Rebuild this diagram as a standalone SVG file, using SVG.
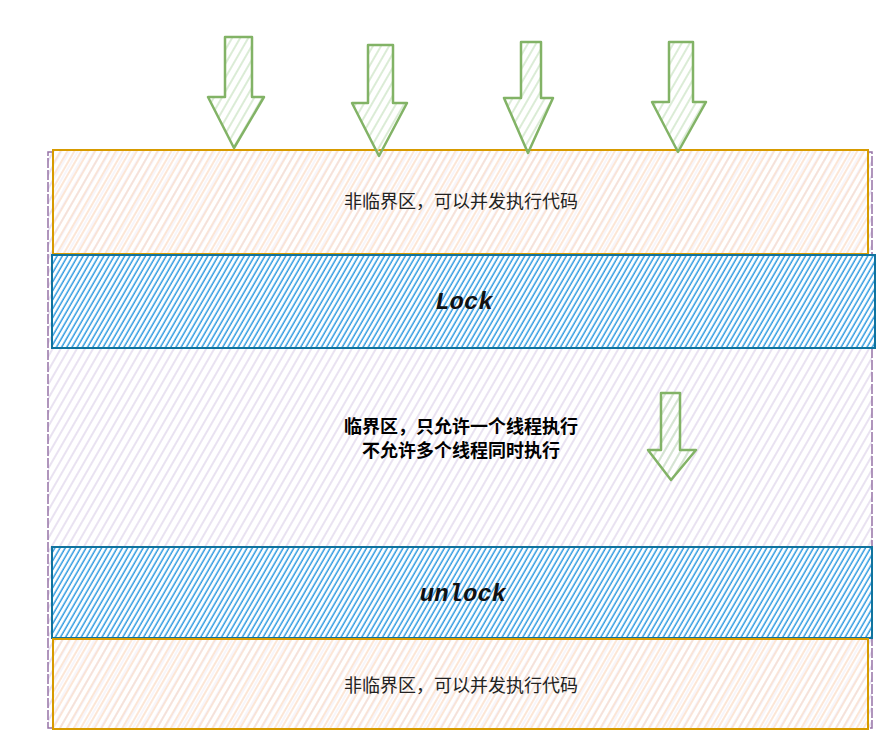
<svg xmlns="http://www.w3.org/2000/svg" width="894" height="744" viewBox="0 0 894 744">
<style>
.cn{font-family:"Noto Sans CJK SC","Liberation Sans",sans-serif;font-size:18px;fill:#222;text-anchor:middle;dominant-baseline:central}
.cnb{font-family:"Noto Sans CJK SC","Liberation Sans",sans-serif;font-size:18px;font-weight:bold;fill:#000;text-anchor:middle;dominant-baseline:central}
.mono{font-family:"Liberation Mono","DejaVu Sans Mono",monospace;font-size:24px;font-weight:bold;font-style:italic;fill:#111;text-anchor:middle;dominant-baseline:central}
.arrow{fill:url(#hg);stroke:#82b366;stroke-width:2.5;stroke-linejoin:round}
</style>
<defs>
<pattern id="ho" width="6" height="10" patternUnits="userSpaceOnUse" patternTransform="rotate(30)">
<line x1="2" y1="0" x2="2" y2="10" stroke="#fbd9c0" stroke-width="1.3"/>
</pattern>
<pattern id="hp" width="7" height="10" patternUnits="userSpaceOnUse" patternTransform="rotate(30)">
<line x1="3" y1="0" x2="3" y2="10" stroke="#ddd3ea" stroke-width="1.3"/>
</pattern>
<pattern id="hb" width="4.5" height="10" patternUnits="userSpaceOnUse" patternTransform="rotate(30)">
<line x1="2" y1="0" x2="2" y2="10" stroke="#2f9ae0" stroke-width="1.5"/>
</pattern>
<pattern id="hg" width="7" height="10" patternUnits="userSpaceOnUse" patternTransform="rotate(30)">
<line x1="3" y1="0" x2="3" y2="10" stroke="#cfe6c8" stroke-width="1.5"/>
</pattern>
</defs>

<g id="critical">
<rect x="48" y="152" width="824" height="576" fill="#fff"/>
<rect x="48" y="152" width="824" height="576" fill="url(#hp)" stroke="#9673a6" stroke-width="1.5" stroke-dasharray="10 2"/>
<text class="cnb" x="461" y="425">临界区，只允许一个线程执行</text>
<text class="cnb" x="461" y="449">不允许多个线程同时执行</text>
</g>

<g id="top-noncritical">
<rect x="53" y="150" width="815" height="104" fill="#fff"/>
<rect x="53" y="150" width="815" height="104" fill="url(#ho)"/>
<rect x="53" y="150" width="815" height="104" fill="url(#hp)" opacity="0.35"/>
<rect x="53" y="150" width="815" height="104" fill="none" stroke="#d79b00" stroke-width="2"/>
<text class="cn" x="461" y="200">非临界区，可以并发执行代码</text>
</g>

<g id="lock">
<rect x="52" y="255" width="823" height="93" fill="#fff"/>
<rect x="52" y="255" width="823" height="93" fill="url(#hb)" stroke="#10739e" stroke-width="2"/>
<text class="mono" x="464" y="302">Lock</text>
</g>

<g id="unlock">
<rect x="52" y="547" width="820" height="91" fill="#fff"/>
<rect x="52" y="547" width="820" height="91" fill="url(#hb)" stroke="#10739e" stroke-width="2"/>
<text class="mono" x="463" y="594">unlock</text>
</g>

<g id="bottom-noncritical">
<rect x="53" y="639" width="815" height="90" fill="#fff"/>
<rect x="53" y="639" width="815" height="90" fill="url(#ho)"/>
<rect x="53" y="639" width="815" height="90" fill="url(#hp)" opacity="0.35"/>
<rect x="53" y="639" width="815" height="90" fill="none" stroke="#d79b00" stroke-width="2"/>
<text class="cn" x="461" y="684">非临界区，可以并发执行代码</text>
</g>

<g id="connectors">
<path class="arrow" d="M225 37 L252 37 L252 97 L264 97 L234 148 L208 97 L225 97 Z"/>
<path class="arrow" d="M368 45 L393 45 L393 103 L407 103 L379 156 L352 103 L368 103 Z"/>
<path class="arrow" d="M521 42 L541 42 L541 98 L553 98 L528 153 L504 98 L521 98 Z"/>
<path class="arrow" d="M669 42 L693 42 L693 102 L706 102 L678 152 L652 102 L669 102 Z"/>
<path class="arrow" d="M661 393 L680 393 L680 450 L696 450 L671 480 L648 450 L661 450 Z"/>
</g>
</svg>
